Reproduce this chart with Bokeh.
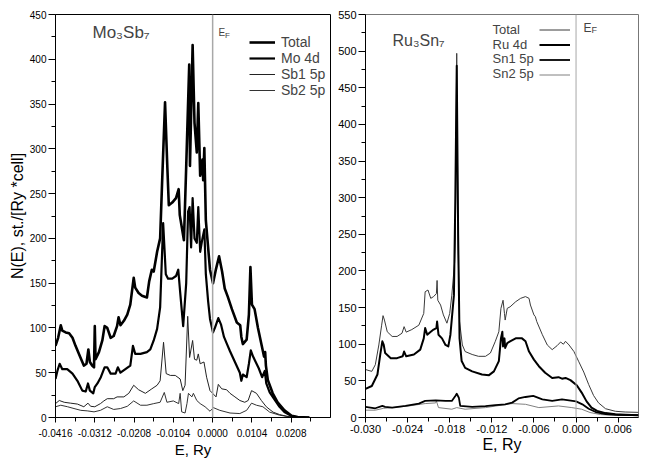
from bokeh.plotting import figure
from bokeh.layouts import row
from bokeh.models import (Range1d, FixedTicker, PrintfTickFormatter, Span, Label,
                          Legend, LegendItem)
from bokeh.embed import file_html
from bokeh.resources import INLINE

FONT = "Liberation Sans"

# ---------------- Mo3Sb7 (left panel) ----------------
e_mo_total = [-0.0416, -0.0409, -0.0402, -0.0398, -0.0389, -0.0380, -0.0371, -0.0363, -0.0350, -0.0341,
              -0.0334, -0.0329, -0.0325, -0.0319, -0.0314, -0.0312, -0.0310, -0.0301, -0.0292, -0.0286,
              -0.0279, -0.0270, -0.0262, -0.0253, -0.0249, -0.0244, -0.0235, -0.0226, -0.0218, -0.0209,
              -0.0205, -0.0196, -0.0187, -0.0174, -0.0168, -0.0161, -0.0156, -0.0147, -0.0139, -0.0134,
              -0.0126, -0.0120, -0.0116, -0.0107, -0.0097, -0.0090, -0.0087, -0.0076, -0.0070, -0.0062,
              -0.0060, -0.0053, -0.0048, -0.0042, -0.0038, -0.0033, -0.0027, -0.0025, -0.0022, -0.0018,
              -0.0012, -0.0007, 0.0001, 0.0009, 0.0017, 0.0025, 0.0032, 0.0040, 0.0051, 0.0064,
              0.0073, 0.0076, 0.0080, 0.0090, 0.0096, 0.0100, 0.0104, 0.0111, 0.0120, 0.0130,
              0.0136, 0.0139, 0.0141, 0.0146, 0.0159, 0.0172, 0.0190, 0.0209, 0.0225, 0.0256]
n_mo_total = [80, 89, 103, 97, 95, 94, 89, 80, 67, 58,
              60, 76, 62, 58, 56, 102, 65, 73, 86, 102,
              100, 89, 91, 102, 112, 103, 108, 115, 126, 156,
              145, 139, 136, 134, 152, 165, 163, 185, 200, 260,
              352, 280, 237, 240, 245, 255, 226, 198, 280, 394,
              281, 416, 329, 296, 351, 270, 288, 265, 301, 220,
              190, 165, 150, 166, 180, 163, 144, 135, 121, 106,
              103, 90, 82, 87, 115, 168, 126, 121, 100, 80,
              68, 73, 58, 42, 27, 17, 8, 2, 0.5, 0]

e_mo_4d = [-0.0416, -0.0411, -0.0405, -0.0398, -0.0385, -0.0371, -0.0358, -0.0345, -0.0336, -0.0330,
           -0.0325, -0.0316, -0.0312, -0.0305, -0.0296, -0.0286, -0.0279, -0.0270, -0.0257, -0.0251,
           -0.0244, -0.0231, -0.0218, -0.0211, -0.0205, -0.0191, -0.0174, -0.0165, -0.0156, -0.0147,
           -0.0139, -0.0131, -0.0124, -0.0118, -0.0107, -0.0097, -0.0091, -0.0086, -0.0078, -0.0070,
           -0.0065, -0.0061, -0.0057, -0.0053, -0.0048, -0.0042, -0.0038, -0.0033, -0.0027, -0.0022,
           -0.0018, -0.0012, -0.0007, 0.0001, 0.0006, 0.0015, 0.0022, 0.0030, 0.0038, 0.0046,
           0.0059, 0.0072, 0.0076, 0.0080, 0.0090, 0.0096, 0.0101, 0.0107, 0.0114, 0.0122,
           0.0131, 0.0138, 0.0142, 0.0151, 0.0164, 0.0177, 0.0190, 0.0209, 0.0225, 0.0256]
n_mo_4d = [43, 52, 60, 54, 54, 49, 41, 30, 29, 38,
           30, 27, 34, 38, 45, 56, 56, 49, 49, 56,
           50, 54, 58, 80, 71, 71, 73, 76, 86, 99,
           123, 217, 160, 155, 155, 158, 165, 140, 102, 150,
           230, 235, 190, 245, 200, 195, 235, 185, 200, 210,
           160, 130, 110, 95, 100, 111, 104, 90, 82, 74,
           62, 50, 41, 48, 45, 60, 75, 68, 62, 55,
           45, 52, 38, 28, 20, 12, 6, 1.5, 0.3, 0]

e_sb1_5p = [-0.0416, -0.0406, -0.0393, -0.0376, -0.0358, -0.0341, -0.0330, -0.0323, -0.0312, -0.0297,
            -0.0288, -0.0279, -0.0262, -0.0253, -0.0235, -0.0222, -0.0209, -0.0196, -0.0178, -0.0161,
            -0.0147, -0.0139, -0.0130, -0.0123, -0.0112, -0.0099, -0.0086, -0.0079, -0.0073, -0.0066,
            -0.0061, -0.0053, -0.0048, -0.0042, -0.0038, -0.0033, -0.0023, -0.0016, -0.0007, 0.0000,
            0.0009, 0.0015, 0.0024, 0.0037, 0.0046, 0.0059, 0.0072, 0.0085, 0.0094, 0.0103,
            0.0116, 0.0129, 0.0142, 0.0160, 0.0177, 0.0195, 0.0212, 0.0230]
n_sb1_5p = [15.5, 19, 17, 16, 15, 12, 16, 12.5, 12, 15.5,
            18.5, 21, 21, 23, 23, 27, 36, 31, 27, 32,
            36, 41, 84, 49, 47, 47, 43, 30, 36, 113,
            67, 86, 65, 64, 71, 60, 62, 45, 30, 27,
            23, 37, 32, 31, 27, 23, 19, 17, 19, 30,
            27, 19, 12, 6, 3.3, 1.5, 0.4, 0]

e_sb2_5p = [-0.0416, -0.0402, -0.0384, -0.0367, -0.0349, -0.0332, -0.0314, -0.0297, -0.0279, -0.0262,
            -0.0244, -0.0226, -0.0209, -0.0191, -0.0174, -0.0156, -0.0139, -0.0128, -0.0121, -0.0104,
            -0.0090, -0.0086, -0.0082, -0.0073, -0.0068, -0.0064, -0.0055, -0.0051, -0.0042, -0.0033,
            -0.0020, -0.0007, 0.0002, 0.0019, 0.0046, 0.0072, 0.0090, 0.0103, 0.0116, 0.0133,
            0.0151, 0.0177, 0.0204, 0.0230]
n_sb2_5p = [12, 13.7, 12, 10, 8, 7.4, 6.3, 8, 12, 9,
            10, 12.5, 18.5, 13.7, 13.7, 15.5, 17, 28, 17, 18.5,
            15.5, 27, 6.3, 5, 15.5, 27, 23, 27, 19, 15.5,
            12, 7, 11, 8, 5, 4.4, 8, 16, 13.7, 12,
            6, 2.6, 0.7, 0]

mo_x_ticks = [-0.0416, -0.0312, -0.0208, -0.0104, 0.0, 0.0104, 0.0208]
mo_x_minor = [-0.0364, -0.0260, -0.0156, -0.0052, 0.0052, 0.0156, 0.0260]
mo_y_ticks = list(range(0, 451, 50))
mo_y_minor = list(range(25, 450, 50))

# ---------------- Ru3Sn7 (right panel) ----------------
e_ru_total = [-0.0300, -0.0295, -0.0291, -0.0286, -0.0281, -0.0277, -0.0275, -0.0273, -0.0269, -0.0262,
              -0.0255, -0.0248, -0.0245, -0.0242, -0.0234, -0.0224, -0.0217, -0.0215, -0.0211, -0.0207,
              -0.0203, -0.0199, -0.0198, -0.0197, -0.0193, -0.0189, -0.0184, -0.0180, -0.0177, -0.0173,
              -0.0172, -0.0170, -0.0168, -0.0166, -0.0162, -0.0158, -0.0148, -0.0139, -0.0129, -0.0122,
              -0.0115, -0.0110, -0.0107, -0.0104, -0.0102, -0.0101, -0.0098, -0.0094, -0.0086, -0.0079,
              -0.0072, -0.0067, -0.0065, -0.0060, -0.0058, -0.0056, -0.0048, -0.0041, -0.0034, -0.0027,
              -0.0022, -0.0018, -0.0015, -0.0010, -0.0003, 0.0004, 0.0011, 0.0018, 0.0025, 0.0032,
              0.0042, 0.0056, 0.0070, 0.0089]
n_ru_total = [65.5, 64, 63, 72, 99, 126, 139, 133, 117, 110.6,
              110.6, 115, 124, 116.5, 120, 126, 142, 171.6, 174, 162.6,
              165, 169, 187, 160, 153.5, 140, 128.7, 142, 167, 212,
              245, 497, 230, 131, 99, 90, 86, 83.5, 83.5, 88,
              104, 117, 149, 160, 142, 133, 149, 151, 158, 162.6,
              165, 162.6, 153.5, 140, 137.7, 131, 113, 99, 92.6, 98,
              103, 100, 104, 99, 90, 76, 62, 45, 30, 20,
              12, 8.5, 7.5, 7]

e_ru_4d = [-0.0300, -0.0291, -0.0283, -0.0279, -0.0276, -0.0274, -0.0272, -0.0264, -0.0255, -0.0247,
           -0.0245, -0.0242, -0.0231, -0.0222, -0.0217, -0.0215, -0.0212, -0.0207, -0.0203, -0.0199,
           -0.0198, -0.0196, -0.0191, -0.0186, -0.0182, -0.0179, -0.0174, -0.0172, -0.0170, -0.0168,
           -0.0166, -0.0163, -0.0158, -0.0148, -0.0134, -0.0124, -0.0117, -0.0110, -0.0107, -0.0105,
           -0.0104, -0.0102, -0.0101, -0.0098, -0.0094, -0.0086, -0.0077, -0.0072, -0.0067, -0.0060,
           -0.0053, -0.0044, -0.0034, -0.0025, -0.0020, -0.0015, -0.0008, 0.0001, 0.0008, 0.0015,
           0.0022, 0.0030, 0.0042, 0.0056, 0.0070, 0.0089]
n_ru_4d = [39, 43, 58.7, 85.8, 104, 99, 88, 81, 81, 83.5,
           90, 83.5, 86, 92.6, 108, 122, 113, 117, 120, 122,
           131, 113, 108, 99, 97, 113, 167, 300, 480, 250,
           108, 77, 67.7, 63, 58.7, 57.8, 63, 77, 108, 117,
           97, 108, 95, 101.6, 104, 108, 108, 104, 90, 79,
           70, 61, 54, 55, 53, 54, 51, 44, 34, 22,
           13.5, 9, 6, 4.5, 3.8, 3.2]

e_sn1_5p = [-0.0300, -0.0286, -0.0276, -0.0272, -0.0262, -0.0243, -0.0224, -0.0215, -0.0200, -0.0186,
            -0.0177, -0.0172, -0.0170, -0.0167, -0.0165, -0.0148, -0.0129, -0.0115, -0.0101, -0.0091,
            -0.0082, -0.0072, -0.0061, -0.0048, -0.0034, -0.0020, -0.0010, 0.0000, 0.0009, 0.0018,
            0.0028, 0.0042, 0.0060, 0.0089]
n_sn1_5p = [14.5, 12.6, 15.8, 14.5, 13.5, 15.8, 19, 22.6, 23.5, 22.6,
            22.6, 29.4, 32.5, 27, 15.8, 14.5, 15.4, 17, 18, 20.3,
            26, 28, 29.4, 24.8, 22.6, 24.8, 23.5, 22, 18, 12,
            7.5, 4.5, 3.6, 3.2]

e_sn2_5p = [-0.0300, -0.0286, -0.0274, -0.0262, -0.0238, -0.0215, -0.0200, -0.0199, -0.0196, -0.0177,
            -0.0170, -0.0158, -0.0129, -0.0105, -0.0091, -0.0072, -0.0053, -0.0025, -0.0006, 0.0008,
            0.0020, 0.0035, 0.0050, 0.0089]
n_sn2_5p = [10, 10, 12.6, 13.5, 15.8, 19, 19.9, 22.6, 13.5, 11.3,
            13.5, 11.3, 13.5, 17, 19, 18, 13.5, 15.8, 13.5, 11.3,
            6.8, 4, 3.2, 2.5]

ru_x_ticks = [-0.030, -0.024, -0.018, -0.012, -0.006, 0.0, 0.006]
ru_x_minor = [-0.027, -0.021, -0.015, -0.009, -0.003, 0.003]
ru_y_ticks = list(range(0, 551, 50))
ru_y_minor = list(range(25, 550, 50))


def style(p, xt, xm, yt, ym, fmt, tick_size):
    p.xgrid.visible = False
    p.ygrid.visible = False
    p.xaxis.ticker = FixedTicker(ticks=xt, minor_ticks=xm)
    p.yaxis.ticker = FixedTicker(ticks=yt, minor_ticks=ym)
    p.xaxis.formatter = PrintfTickFormatter(format=fmt)
    for ax in (p.xaxis, p.yaxis):
        ax.major_label_text_font = FONT
        ax.major_label_text_font_size = tick_size
        ax.major_label_text_color = "black"
        ax.axis_label_text_font = FONT
        ax.axis_label_text_font_style = "normal"
        ax.axis_label_text_color = "black"
        ax.major_tick_in = 0
        ax.minor_tick_in = 0
        ax.axis_line_color = "black"
        ax.major_tick_line_color = "black"
        ax.minor_tick_line_color = "black"
    p.xaxis.major_tick_out = 5
    p.xaxis.minor_tick_out = 4
    p.yaxis.major_tick_out = 7
    p.yaxis.minor_tick_out = 4
    p.yaxis.major_label_standoff = 2


# ---------- left figure ----------
p1 = figure(width=333, height=460, x_range=Range1d(-0.0416, 0.0312), y_range=Range1d(0, 450),
            output_backend="svg", toolbar_location=None,
            min_border_left=55, min_border_right=3, min_border_top=11, min_border_bottom=43)
p1.outline_line_color = "black"
style(p1, mo_x_ticks, mo_x_minor, mo_y_ticks, mo_y_minor, "%.4f", "10px")
p1.xaxis.major_label_standoff = 6
p1.xaxis.axis_label = "E, Ry"
p1.xaxis.axis_label_text_font_size = "15px"
p1.xaxis.axis_label_standoff = 1
p1.yaxis.axis_label = "N(E), st./[Ry *cell]"
p1.yaxis.axis_label_text_font_size = "16px"
p1.yaxis.axis_label_standoff = 1

p1.add_layout(Span(location=0, dimension="height", line_color="#a8a8a8", line_width=1.5))

r_sb2 = p1.line(e_sb2_5p, n_sb2_5p, line_color="#333333", line_width=1, line_join="round")
r_sb1 = p1.line(e_sb1_5p, n_sb1_5p, line_color="#222222", line_width=1, line_join="round")
r_mo4d = p1.line(e_mo_4d, n_mo_4d, line_color="black", line_width=2.2, line_join="round")
r_motot = p1.line(e_mo_total, n_mo_total, line_color="black", line_width=2.6, line_join="round")

leg1 = Legend(items=[LegendItem(label="Total", renderers=[r_motot]),
                     LegendItem(label="Mo 4d", renderers=[r_mo4d]),
                     LegendItem(label="Sb1 5p", renderers=[r_sb1]),
                     LegendItem(label="Sb2 5p", renderers=[r_sb2])],
              location=(194, 319), padding=0, margin=0, spacing=0,
              glyph_width=26, glyph_height=16, label_height=16, label_standoff=6,
              label_text_font=FONT, label_text_font_size="14px",
              border_line_alpha=0, background_fill_alpha=0)
p1.add_layout(leg1)

p1.add_layout(Label(x=37, y=385, x_units="screen", y_units="screen", text="Mo₃Sb₇",
                    text_font=FONT, text_font_size="17px", text_baseline="middle"))
p1.add_layout(Label(x=163, y=385, x_units="screen", y_units="screen", text="E",
                    text_font=FONT, text_font_size="10px", text_baseline="alphabetic"))
p1.add_layout(Label(x=169.5, y=382.5, x_units="screen", y_units="screen", text="F",
                    text_font=FONT, text_font_size="8px", text_baseline="alphabetic"))

# ---------- right figure ----------
p2 = figure(width=321, height=460, x_range=Range1d(-0.030, 0.0089), y_range=Range1d(0, 550),
            output_backend="svg", toolbar_location=None,
            min_border_left=32, min_border_right=16, min_border_top=14, min_border_bottom=40)
p2.outline_line_color = "#777777"
style(p2, ru_x_ticks, ru_x_minor, ru_y_ticks, ru_y_minor, "%.3f", "11px")
p2.xaxis.major_label_standoff = 2
p2.xaxis.axis_label = "E, Ry"
p2.xaxis.axis_label_text_font_size = "16px"
p2.xaxis.axis_label_standoff = 0

p2.add_layout(Span(location=0, dimension="height", line_color="#a8a8a8", line_width=1))

r_sn2 = p2.line(e_sn2_5p, n_sn2_5p, line_color="#808080", line_width=1, line_join="round")
r_sn1 = p2.line(e_sn1_5p, n_sn1_5p, line_color="black", line_width=1.8, line_join="round")
r_rutot = p2.line(e_ru_total, n_ru_total, line_color="#3a3a3a", line_width=1, line_join="round")
r_ru4d = p2.line(e_ru_4d, n_ru_4d, line_color="black", line_width=2, line_join="round")

leg2 = Legend(items=[LegendItem(label=" ", renderers=[r_rutot]),
                     LegendItem(label=" ", renderers=[r_ru4d]),
                     LegendItem(label=" ", renderers=[r_sn1]),
                     LegendItem(label=" ", renderers=[r_sn2])],
              location=(174, 335), padding=0, margin=0, spacing=0,
              glyph_width=31, glyph_height=15, label_height=15, label_standoff=0,
              label_width=0, label_text_font_size="1px",
              border_line_alpha=0, background_fill_alpha=0)
p2.add_layout(leg2)

for txt, sy in zip(["Total", "Ru 4d", "Sn1 5p", "Sn2 5p"], [388.3, 373.3, 359, 344.5]):
    p2.add_layout(Label(x=127, y=sy, x_units="screen", y_units="screen", text=txt,
                        text_font=FONT, text_font_size="13px", text_baseline="middle"))

p2.add_layout(Label(x=27, y=376.7, x_units="screen", y_units="screen", text="Ru₃Sn₇",
                    text_font=FONT, text_font_size="16px", text_baseline="middle"))
p2.add_layout(Label(x=218, y=390, x_units="screen", y_units="screen", text="E",
                    text_font=FONT, text_font_size="12px", text_baseline="alphabetic"))
p2.add_layout(Label(x=226, y=387.5, x_units="screen", y_units="screen", text="F",
                    text_font=FONT, text_font_size="9px", text_baseline="alphabetic"))

layout = row(p1, p2)
open("out.html", "w").write(file_html(layout, INLINE))
